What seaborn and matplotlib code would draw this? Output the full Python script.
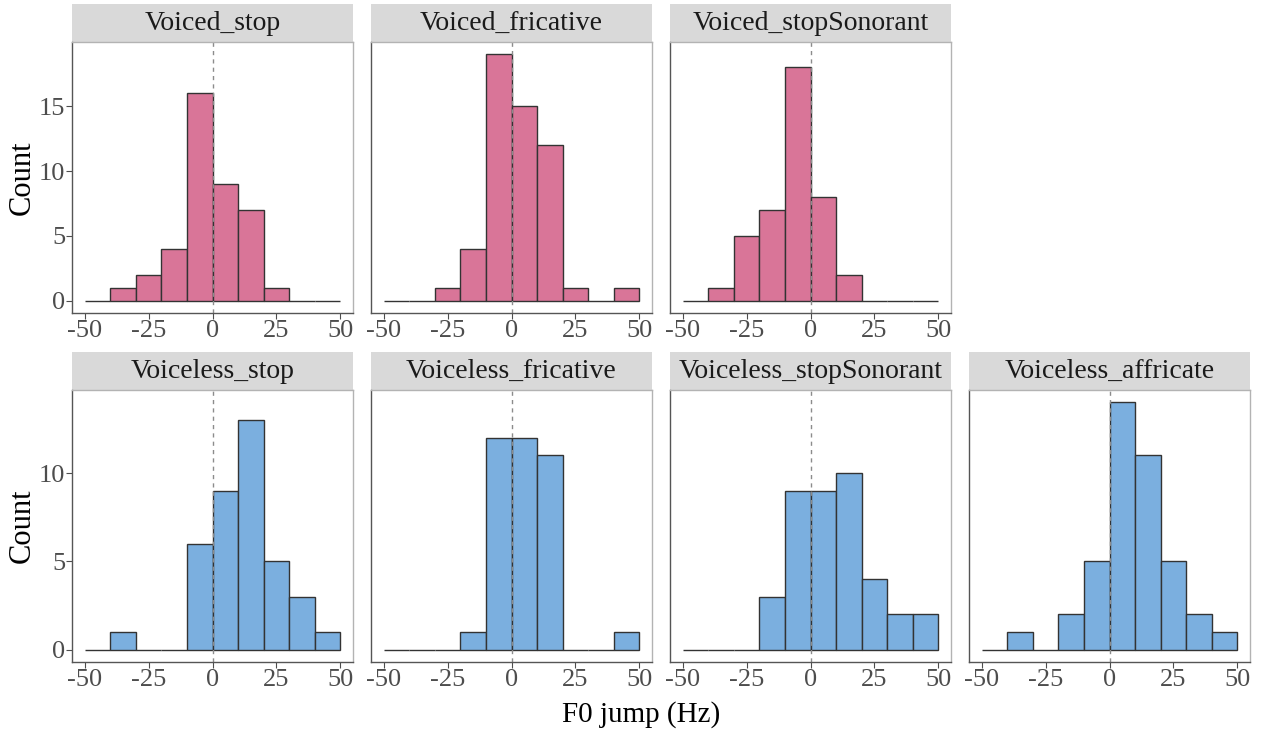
import seaborn as sns
import matplotlib.pyplot as plt
import numpy as np
import pandas as pd

# bin edges (Hz) shared by every panel
edges = [-50, -40, -30, -20, -10, 0, 10, 20, 30, 40, 50]

voiced_names = ['Voiced_stop', 'Voiced_fricative', 'Voiced_stopSonorant']
voiced_stop = [0, 1, 2, 4, 16, 9, 7, 1, 0, 0]
voiced_fricative = [0, 0, 1, 4, 19, 15, 12, 1, 0, 1]
voiced_stopsonorant = [0, 1, 5, 7, 18, 8, 2, 0, 0, 0]

voiceless_names = ['Voiceless_stop', 'Voiceless_fricative', 'Voiceless_stopSonorant', 'Voiceless_affricate']
voiceless_stop = [0, 1, 0, 0, 6, 9, 13, 5, 3, 1]
voiceless_fricative = [0, 0, 0, 1, 12, 12, 11, 0, 0, 1]
voiceless_stopsonorant = [0, 0, 0, 3, 9, 9, 10, 4, 2, 2]
voiceless_affricate = [0, 1, 0, 2, 5, 14, 11, 5, 2, 1]

x_ticks = [-50, -25, 0, 25, 50]
top_yticks = [0, 5, 10, 15]
bottom_yticks = [0, 5, 10]

PINK = '#D97598'
BLUE = '#7BAFDF'


def make_frame(names, series):
    centers = (np.array(edges[:-1]) + np.array(edges[1:])) / 2
    rows = []
    for name, counts in zip(names, series):
        for c, n in zip(centers, counts):
            rows.append({'group': name, 'f0': c, 'n': n})
    return pd.DataFrame(rows)


sns.set_theme(style='white')
plt.rcParams['font.family'] = ['Liberation Serif', 'DejaVu Serif']
plt.rcParams['axes.unicode_minus'] = False

W, H = 1261, 733
fig = plt.figure(figsize=(W / 100, H / 100), dpi=100)

panel_left = [72, 371, 670, 969]
panel_w = 281


def to_fig(x0, y0, w, h):
    return [x0 / W, 1 - (y0 + h) / H, w / W, h / H]


def draw_row(df, names, color, strip_top, strip_h, ax_top, ax_bottom, ylim, yticks):
    for i, name in enumerate(names):
        x0 = panel_left[i]
        # strip
        sax = fig.add_axes(to_fig(x0, strip_top, panel_w, strip_h))
        sax.set_facecolor('#D9D9D9')
        sax.set_xticks([])
        sax.set_yticks([])
        for s in sax.spines.values():
            s.set_visible(False)
        sax.text(0.5, 0.5, name, ha='center', va='center', fontsize=20,
                 color='#1A1A1A', transform=sax.transAxes)

        ax = fig.add_axes(to_fig(x0, ax_top, panel_w, ax_bottom - ax_top))
        sub = df[df['group'] == name]
        sns.histplot(data=sub, x='f0', weights='n', bins=edges, ax=ax,
                     color=color, edgecolor='#333333', linewidth=1.0, alpha=1)
        ax.axvline(0, color='#8C8C8C', linestyle=(0, (3, 3)), linewidth=1.0)
        ax.set_xlim(-55, 55)
        ax.set_ylim(*ylim)
        ax.set_xticks(x_ticks)
        ax.set_xticklabels([str(t) for t in x_ticks])
        ax.set_yticks(yticks)
        if i == 0:
            ax.set_yticklabels([str(t) for t in yticks])
        else:
            ax.set_yticklabels([])
            ax.tick_params(axis='y', length=0)
        ax.set_xlabel('')
        ax.set_ylabel('')
        ax.tick_params(axis='both', labelsize=19, labelcolor='#4D4D4D',
                       colors='#4D4D4D', direction='out', pad=1)
        ax.tick_params(axis='x', length=4, width=0.8, bottom=True)
        if i == 0:
            ax.tick_params(axis='y', length=4, width=0.8, left=True)
        for side in ['top', 'right']:
            ax.spines[side].set_color('#B3B3B3')
            ax.spines[side].set_linewidth(1.0)
        for side in ['left', 'bottom']:
            ax.spines[side].set_color('#555555')
            ax.spines[side].set_linewidth(1.0)
        ax.grid(False)


voiced_df = make_frame(voiced_names, [voiced_stop, voiced_fricative, voiced_stopsonorant])
voiceless_df = make_frame(voiceless_names, [voiceless_stop, voiceless_fricative,
                                            voiceless_stopsonorant, voiceless_affricate])

draw_row(voiced_df, voiced_names, PINK, 4, 38, 42, 313, (-0.95, 19.95), top_yticks)
draw_row(voiceless_df, voiceless_names, BLUE, 352, 38, 390, 662, (-0.7, 14.7), bottom_yticks)

fig.text(22 / W, 1 - 178 / H, 'Count', rotation=90, ha='center', va='center',
         fontsize=22, color='black')
fig.text(22 / W, 1 - 526 / H, 'Count', rotation=90, ha='center', va='center',
         fontsize=22, color='black')
fig.text(641 / W, 1 - 715 / H, 'F0 jump (Hz)', ha='center', va='center',
         fontsize=21, color='black')

plt.savefig('out.png', dpi=100)
